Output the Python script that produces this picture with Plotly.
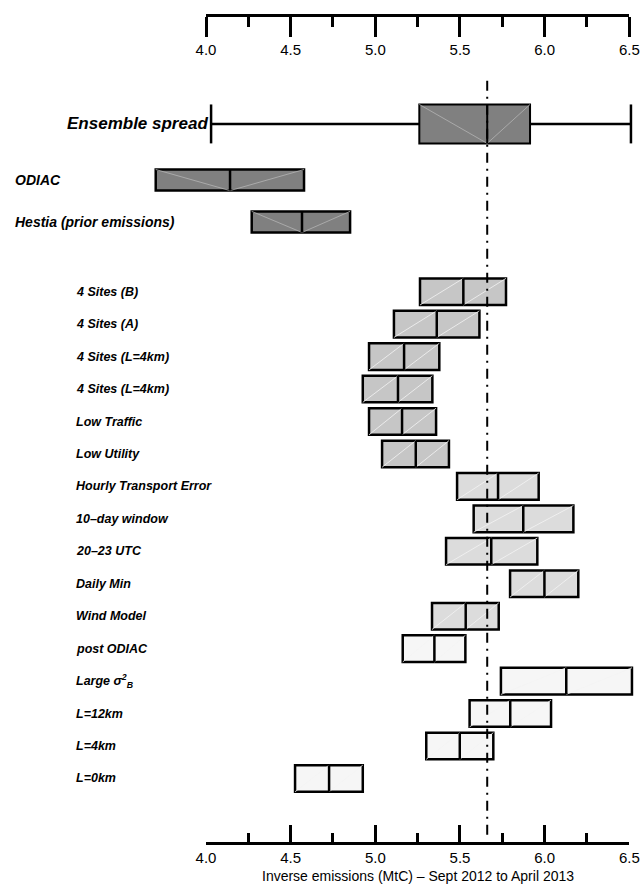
import plotly.graph_objects as go

# ---------------- data ----------------
ens_label = "Ensemble spread"
ens_whisker_lo = 4.03
ens_q1 = 5.26
ens_median = 5.661
ens_q3 = 5.914
ens_whisker_hi = 6.51

prior_labels = ["ODIAC", "Hestia (prior emissions)"]
prior_lo = [3.703, 4.270]
prior_med = [4.142, 4.567]
prior_hi = [4.579, 4.851]

row_labels = [
    "4 Sites (B)", "4 Sites (A)", "4 Sites (L=4km)", "4 Sites (L=4km)",
    "Low Traffic", "Low Utility",
    "Hourly Transport Error", "10–day window", "20–23 UTC", "Daily Min", "Wind Model",
    "post ODIAC", "Large σ<sup>2</sup><sub>B</sub>", "L=12km", "L=4km", "L=0km",
]
row_lo = [5.264, 5.110, 4.963, 4.926, 4.963, 5.040,
          5.483, 5.581, 5.418, 5.796, 5.335,
          5.162, 5.742, 5.557, 5.301, 4.526]
row_med = [5.520, 5.363, 5.170, 5.134, 5.158, 5.239,
           5.725, 5.874, 5.685, 5.999, 5.534,
           5.349, 6.128, 5.797, 5.499, 4.727]
row_hi = [5.772, 5.615, 5.378, 5.337, 5.359, 5.435,
          5.965, 6.170, 5.957, 6.199, 5.729,
          5.532, 6.516, 6.038, 5.697, 4.926]
row_group = [0, 0, 0, 0, 0, 0, 1, 1, 1, 1, 1, 2, 2, 2, 2, 2]

tick_vals = [4.0, 4.5, 5.0, 5.5, 6.0, 6.5]
tick_text = ["4.0", "4.5", "5.0", "5.5", "6.0", "6.5"]
minor_vals = [4.25, 4.75, 5.25, 5.75, 6.25]
x_title = "Inverse emissions (MtC) – Sept 2012 to April 2013"

# ---------------- layout / style ----------------
W, H = 643, 886
FONT = "Liberation Sans, Arial, Helvetica, sans-serif"
group_colors = ["#c6c6c6", "#dcdcdc", "#f6f6f6"]
dark = "#808080"

def px(page_x):
    return page_x / W

def py(page_y):
    return (H - page_y) / H

row_pos = list(range(len(row_labels)))
ens_pos = -5.17
prior_pos = [-3.44, -2.15]
row_w = 0.82
ens_w = 1.2
prior_w = 0.65

x_range = [2.7832, 6.5812]
y_range = [18.314, -8.989]
line_top, line_bot = -6.5, 16.75

fig = go.Figure()

def add_boxes(lo, med, hi, pos, width, color, lw, diag_color, vshape):
    fig.add_trace(go.Bar(
        orientation="h", y=pos, x=[h - l for l, h in zip(lo, hi)], base=lo,
        width=[width] * len(pos), marker=dict(color=color, line=dict(color="black", width=lw)),
        showlegend=False, hoverinfo="skip"))
    dx, dy = [], []
    for l, m, h, p in zip(lo, med, hi, pos):
        top, bot = p - width / 2, p + width / 2
        if vshape:
            dx += [l, m, None, m, h, None]
            dy += [top, bot, None, bot, top, None]
        else:
            dx += [l, m, None, m, h, None]
            dy += [bot, top, None, bot, top, None]
    fig.add_trace(go.Scatter(x=dx, y=dy, mode="lines", line=dict(color=diag_color, width=0.8),
                             showlegend=False, hoverinfo="skip"))
    mx, my = [], []
    for m, p in zip(med, pos):
        mx += [m, m, None]
        my += [p - width / 2, p + width / 2, None]
    fig.add_trace(go.Scatter(x=mx, y=my, mode="lines", line=dict(color="black", width=lw),
                             showlegend=False, hoverinfo="skip"))

# ensemble whiskers
fig.add_trace(go.Scatter(
    x=[ens_whisker_lo, ens_q1, None, ens_q3, ens_whisker_hi, None,
       ens_whisker_lo, ens_whisker_lo, None, ens_whisker_hi, ens_whisker_hi],
    y=[ens_pos, ens_pos, None, ens_pos, ens_pos, None,
       ens_pos - ens_w / 2, ens_pos + ens_w / 2, None, ens_pos - ens_w / 2, ens_pos + ens_w / 2],
    mode="lines", line=dict(color="black", width=2.5), showlegend=False, hoverinfo="skip"))

add_boxes([ens_q1], [ens_median], [ens_q3], [ens_pos], ens_w, dark, 2, "#b4b4b4", True)
add_boxes(prior_lo, prior_med, prior_hi, prior_pos, prior_w, dark, 2.5, "#b4b4b4", True)
for g in range(3):
    idx = [i for i, gg in enumerate(row_group) if gg == g]
    add_boxes([row_lo[i] for i in idx], [row_med[i] for i in idx], [row_hi[i] for i in idx],
              [row_pos[i] for i in idx], row_w, group_colors[g], 2.5, "#f4f4f4", False)

# dash-dot reference line at ensemble median
fig.add_trace(go.Scatter(x=[ens_median, ens_median], y=[line_top, line_bot], mode="lines",
                         line=dict(color="black", width=2, dash="10px,6px,2px,6px"),
                         showlegend=False, hoverinfo="skip"))

# dummy traces so the decorative axes exist
for ax in ["x2", "x3"]:
    fig.add_trace(go.Scatter(x=[5.0], y=[0], xaxis=ax, yaxis="y", mode="markers",
                             marker=dict(opacity=0), showlegend=False, hoverinfo="skip"))

annotations = []
annotations.append(dict(x=px(65), xref="paper", xanchor="left", y=ens_pos, yref="y",
                        text="<b><i>" + ens_label + "</i></b>", showarrow=False,
                        font=dict(family=FONT, size=17, color="black")))
for lab, p in zip(prior_labels, prior_pos):
    annotations.append(dict(x=px(13), xref="paper", xanchor="left", y=p, yref="y",
                            text="<b><i>" + lab + "</i></b>", showarrow=False,
                            font=dict(family=FONT, size=14, color="black")))
for lab, p in zip(row_labels, row_pos):
    annotations.append(dict(x=px(74), xref="paper", xanchor="left", y=p, yref="y",
                            text="<b><i>" + lab + "</i></b>", showarrow=False,
                            font=dict(family=FONT, size=12.5, color="black")))
annotations.append(dict(x=px((206 + 629.3) / 2), xref="paper", xanchor="center",
                        y=py(876), yref="paper", yanchor="middle", text=x_title,
                        showarrow=False, font=dict(family=FONT, size=14, color="black")))

axis_common = dict(domain=[px(206), px(629.3)], range=[4.0, 6.5], anchor="free",
                   side="bottom", showline=True, linewidth=3, linecolor="black",
                   tickvals=tick_vals, ticktext=tick_text, tickwidth=3, tickcolor="black",
                   showgrid=False, zeroline=False, automargin=False,
                   tickfont=dict(family=FONT, size=15, color="black"))

fig.update_layout(
    width=W, height=H, margin=dict(l=0, r=0, t=0, b=0),
    paper_bgcolor="white", plot_bgcolor="rgba(0,0,0,0)",
    barmode="overlay", showlegend=False,
    xaxis=dict(range=x_range, visible=False, domain=[0, 1]),
    yaxis=dict(range=y_range, visible=False, domain=[0, 1]),
    xaxis2=dict(axis_common, position=py(843), ticks="inside", ticklen=17,
                minor=dict(tickvals=minor_vals, ticks="inside", ticklen=9, tickwidth=3,
                           tickcolor="black", showgrid=False)),
    xaxis3=dict(axis_common, position=py(15), ticks="outside", ticklen=20,
                minor=dict(tickvals=minor_vals, ticks="outside", ticklen=10, tickwidth=3,
                           tickcolor="black", showgrid=False)),
    annotations=annotations,
)

fig.write_html("out.html", config={"displayModeBar": False},
               post_script="document.body.style.margin='0';document.body.style.overflow='hidden';")
